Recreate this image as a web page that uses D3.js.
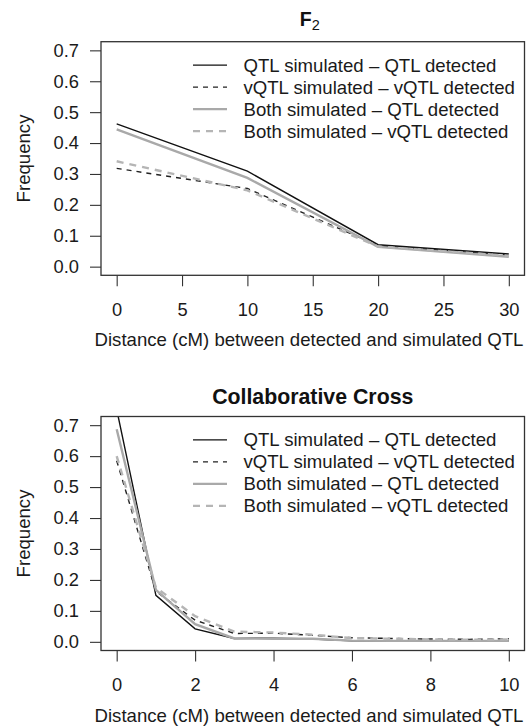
<!DOCTYPE html>
<html>
<head>
  <meta charset="utf-8">
  <title>QTL detection distance</title>
  <style>
    body { margin: 0; background: #fff; }
    svg { display: block; font-family: "Liberation Sans", Arial, sans-serif; }
    .axis text { font-size: 18.3px; fill: #1a1a1a; }
    .axis line { stroke: #333; stroke-width: 1.1; }
    .axis path { display: none; }
  </style>
</head>
<body>
<script src="https://cdn.jsdelivr.net/npm/d3@7/dist/d3.min.js"></script>
<script>
  // legend entries (same order for both panels)
  var seriesNames = ["QTL simulated \u2013 QTL detected",
                     "vQTL simulated \u2013 vQTL detected",
                     "Both simulated \u2013 QTL detected",
                     "Both simulated \u2013 vQTL detected"];

  // F2 panel
  var f2Distance = [0, 10, 20, 30];
  var f2QtlQtl   = [0.462, 0.309, 0.071, 0.041];
  var f2VqtlVqtl = [0.318, 0.253, 0.068, 0.037];
  var f2BothQtl  = [0.444, 0.287, 0.064, 0.032];
  var f2BothVqtl = [0.341, 0.247, 0.065, 0.035];
  var f2XTicks   = [0, 5, 10, 15, 20, 25, 30];

  // Collaborative Cross panel
  var ccDistance = [0, 1, 2, 3, 4, 5, 6, 7, 8, 9, 10];
  var ccQtlQtl   = [0.751, 0.150, 0.042, 0.011, 0.012, 0.009, 0.003, 0.003, 0.002, 0.002, 0.003];
  var ccVqtlVqtl = [0.585, 0.163, 0.070, 0.027, 0.028, 0.021, 0.013, 0.011, 0.009, 0.008, 0.010];
  var ccBothQtl  = [0.687, 0.168, 0.057, 0.011, 0.010, 0.010, 0.004, 0.003, 0.003, 0.003, 0.003];
  var ccBothVqtl = [0.600, 0.175, 0.083, 0.033, 0.030, 0.023, 0.012, 0.010, 0.008, 0.007, 0.008];
  var ccXTicks   = [0, 2, 4, 6, 8, 10];

  var yTicks = [0, 0.1, 0.2, 0.3, 0.4, 0.5, 0.6, 0.7];

  // line styles for the 4 series
  var styles = [
    {color: "#111", width: 1.4, dash: null},
    {color: "#222", width: 1.4, dash: "5,5"},
    {color: "#a9a9a9", width: 2.4, dash: null},
    {color: "#b5b5b5", width: 2.4, dash: "7,6"}
  ];

  var w = 530, h = 727;
  var left = 101, right = 524.5;
  var fs = "18.6px";

  var svg = d3.select("body").append("svg")
    .attr("width", w)
    .attr("height", h);

  function drawPanel(id, top, bottom, xs, series, xTicks, titleFn) {
    var xMin = d3.min(xs), xMax = d3.max(xs);
    var pad = (xMax - xMin) * 0.04;
    var x = d3.scaleLinear().domain([xMin - pad, xMax + pad]).range([left, right]);
    var y = d3.scaleLinear().domain([-0.028, 0.728]).range([bottom, top]);

    var g = svg.append("g");

    g.append("clipPath").attr("id", id)
      .append("rect")
      .attr("x", left).attr("y", top)
      .attr("width", right - left).attr("height", bottom - top);

    // lines
    var line = d3.line()
      .x(function(d) { return x(d[0]); })
      .y(function(d) { return y(d[1]); });

    series.forEach(function(vals, i) {
      g.append("path")
        .datum(xs.map(function(v, j) { return [v, vals[j]]; }))
        .attr("clip-path", "url(#" + id + ")")
        .attr("d", line)
        .attr("fill", "none")
        .attr("stroke", styles[i].color)
        .attr("stroke-width", styles[i].width)
        .attr("stroke-dasharray", styles[i].dash);
    });

    // box
    g.append("rect")
      .attr("x", left).attr("y", top)
      .attr("width", right - left).attr("height", bottom - top)
      .attr("fill", "none")
      .attr("stroke", "#333")
      .attr("stroke-width", 1.3);

    // axes
    g.append("g")
      .attr("class", "axis")
      .attr("transform", "translate(0," + bottom + ")")
      .call(d3.axisBottom(x).tickValues(xTicks).tickSize(11).tickPadding(17)
        .tickFormat(d3.format("d")));

    g.append("g")
      .attr("class", "axis")
      .attr("transform", "translate(" + left + ",0)")
      .call(d3.axisLeft(y).tickValues(yTicks).tickSize(11).tickPadding(11)
        .tickFormat(d3.format(".1f")));

    // axis labels
    g.append("text")
      .attr("transform", "rotate(-90)")
      .attr("x", -(top + bottom) / 2)
      .attr("y", 29.5)
      .style("text-anchor", "middle")
      .style("font-size", fs)
      .attr("fill", "#1a1a1a")
      .text("Frequency");

    g.append("text")
      .attr("x", 309)
      .attr("y", bottom + 71)
      .style("text-anchor", "middle")
      .style("font-size", fs)
      .attr("fill", "#1a1a1a")
      .text("Distance (cM) between detected and simulated QTL");

    // legend
    var leg = g.append("g");
    seriesNames.forEach(function(name, i) {
      var ly = top + 23.4 + 22 * i;
      leg.append("line")
        .attr("x1", 193).attr("x2", 227)
        .attr("y1", ly).attr("y2", ly)
        .attr("stroke", styles[i].color)
        .attr("stroke-width", styles[i].width)
        .attr("stroke-dasharray", styles[i].dash);
      leg.append("text")
        .attr("x", 243.5)
        .attr("y", ly + 6.4)
        .style("font-size", fs)
        .attr("fill", "#1a1a1a")
        .text(name);
    });

    titleFn(g, (left + right) / 2, top);
  }

  drawPanel("clipF2", 41.7, 275.3, f2Distance,
    [f2QtlQtl, f2VqtlVqtl, f2BothQtl, f2BothVqtl], f2XTicks,
    function(g, cx, top) {
      var t = g.append("text")
        .attr("x", cx - 3)
        .attr("y", 26)
        .style("text-anchor", "middle")
        .style("font-weight", "bold")
        .style("font-size", "19.5px")
        .attr("fill", "#111");
      t.append("tspan").text("F");
      t.append("tspan").attr("dy", 3.5)
        .style("font-size", "14.5px").style("font-weight", "normal").text("2");
    });

  drawPanel("clipCC", 416.5, 650.5, ccDistance,
    [ccQtlQtl, ccVqtlVqtl, ccBothQtl, ccBothVqtl], ccXTicks,
    function(g, cx, top) {
      g.append("text")
        .attr("x", cx)
        .attr("y", 403.5)
        .style("text-anchor", "middle")
        .style("font-weight", "bold")
        .style("font-size", "21.3px")
        .attr("fill", "#111")
        .text("Collaborative Cross");
    });
</script>
</body>
</html>
